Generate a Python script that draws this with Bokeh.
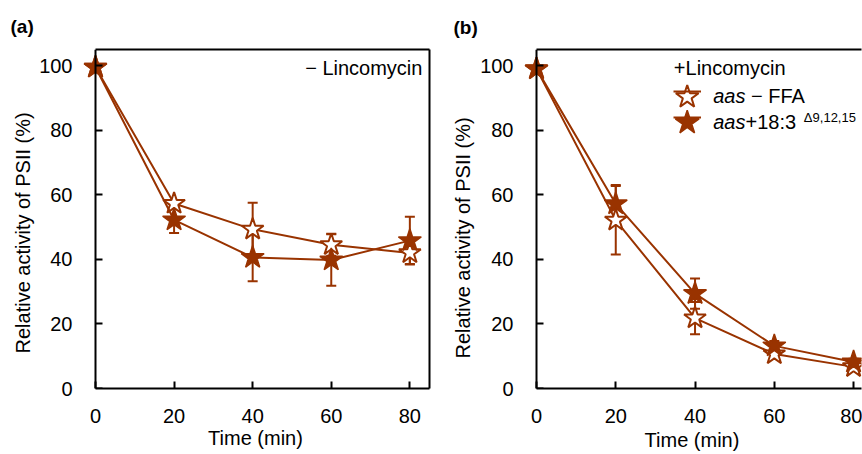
from bokeh.plotting import figure
from bokeh.models import (Whisker, TeeHead, ColumnDataSource, FixedTicker, Label,
                          Range1d, Legend, LegendItem, LinearAxis, Title)
from bokeh.layouts import row
from bokeh.embed import file_html
from bokeh.resources import INLINE

# ---------------- data ----------------
time_min = [0, 20, 40, 60, 80]

# panel (a): - Lincomycin
a_ffa = [99.5, 57.3, 49.3, 44.5, 42.0]
a_ffa_err = [0, 1.0, 8.2, 3.4, 3.4]
a_183 = [99.5, 52.2, 40.6, 39.8, 45.8]
a_183_err = [0, 4.0, 7.4, 8.0, 7.4]

# panel (b): + Lincomycin
b_ffa = [99.0, 52.1, 21.8, 10.7, 6.7]
b_ffa_err = [0, 10.6, 5.0, 1.0, 0.8]
b_183 = [99.0, 57.2, 29.4, 13.2, 8.2]
b_183_err = [0, 5.8, 4.7, 1.5, 1.0]

x_ticks = [0, 20, 40, 60, 80]
y_ticks = [0, 20, 40, 60, 80, 100]

BROWN = "#993300"
FONT = "Liberation Sans"


def border_axis(bounds=None):
    ax = LinearAxis(ticker=FixedTicker(ticks=[]), axis_line_width=2,
                    axis_line_color="black", major_tick_in=0, major_tick_out=0,
                    minor_tick_in=0, minor_tick_out=0, major_label_standoff=0,
                    axis_label_standoff=0, major_label_text_font_size="1px",
                    major_label_text_color=None)
    if bounds is not None:
        ax.bounds = bounds
    return ax


def make_fig(title, width, height, bl, br, bt, bb, xstart, xend, title_offset,
             title_standoff, x_standoff, xl_standoff, yl_offset, yl_standoff):
    p = figure(width=width, height=height, output_backend="svg", toolbar_location=None,
               x_range=Range1d(xstart, xend), y_range=Range1d(0, 105),
               min_border_left=bl, min_border_right=br, min_border_top=bt,
               min_border_bottom=bb, title=title)
    p.title.align = "left"
    p.title.offset = title_offset
    p.title.text_font = FONT
    p.title.text_font_size = "19px"
    p.title.text_font_style = "bold"
    p.title.text_color = "black"
    p.title.standoff = title_standoff
    p.grid.visible = False
    p.outline_line_color = None
    p.background_fill_color = "white"
    p.border_fill_color = "white"
    for ax in (p.xaxis[0], p.yaxis[0]):
        ax.axis_line_width = 2
        ax.axis_line_color = "black"
        ax.major_tick_line_width = 2
        ax.major_tick_line_color = "black"
        ax.minor_tick_line_color = None
        ax.major_tick_in = 7
        ax.major_tick_out = 0
        ax.major_label_text_font = FONT
        ax.major_label_text_font_size = "20px"
        ax.major_label_text_color = "black"
        ax.axis_label_text_font = FONT
        ax.axis_label_text_font_size = "20px"
        ax.axis_label_text_font_style = "normal"
        ax.axis_label_text_color = "black"
    p.xaxis.ticker = FixedTicker(ticks=x_ticks)
    p.xaxis.bounds = (0, xend)
    p.xaxis.major_label_standoff = x_standoff
    p.xaxis.axis_label = "Time (min)"
    p.xaxis.axis_label_standoff = xl_standoff

    # labelled y axis (sits at frame edge; its own line and ticks hidden)
    ya = p.yaxis[0]
    ya.ticker = FixedTicker(ticks=y_ticks)
    ya.axis_line_color = None
    ya.major_tick_line_color = None
    ya.major_label_standoff = 9

    # y axis line and inward ticks drawn exactly at x = 0 (no labels)
    yfix = LinearAxis(ticker=FixedTicker(ticks=y_ticks), fixed_location=0,
                      axis_line_width=2, axis_line_color="black",
                      major_tick_in=7, major_tick_out=0, major_tick_line_width=2,
                      major_tick_line_color="black", minor_tick_line_color=None,
                      major_label_standoff=0, major_label_text_font_size="1px",
                      major_label_text_color=None, axis_label_standoff=0)
    p.add_layout(yfix, "left")
    p.add_layout(border_axis((0, xend)), "above")

    # y-axis title, placed like the original (not centred on the frame)
    p.add_layout(Title(text="Relative activity of PSII (%)", align="left",
                       offset=yl_offset, standoff=yl_standoff,
                       vertical_align="bottom", text_font=FONT,
                       text_font_size="20px", text_font_style="normal",
                       text_color="black"), "left")
    return p


def add_series(p, y, err, filled):
    src = ColumnDataSource(dict(x=time_min, y=y,
                                upper=[v + e for v, e in zip(y, err)],
                                lower=[v - e for v, e in zip(y, err)]))
    w = Whisker(source=src, base="x", upper="upper", lower="lower",
                line_color=BROWN, line_width=2, level="underlay",
                upper_head=TeeHead(size=10, line_color=BROWN, line_width=2),
                lower_head=TeeHead(size=10, line_color=BROWN, line_width=2))
    p.add_layout(w)
    lr = p.line("x", "y", source=src, line_color=BROWN, line_width=2)
    p.scatter("x", "y", source=src, marker="star", size=24 if filled else 23,
              fill_color=BROWN if filled else "white", line_color=BROWN,
              line_width=1.5 if filled else 2)
    return lr


def txt(p, x, y, s, size="20px", style="normal", align="left"):
    p.add_layout(Label(x=x, y=y, text=s, text_font=FONT, text_font_size=size,
                       text_font_style=style, text_align=align,
                       text_baseline="alphabetic", text_color="black"))


# ---------- panel (a) ----------
pa = make_fig("(a)", 440, 454, 81, 11, 48, 66, -3.56, 85, -71, 26, 20, 1, 35, 6)
pa.add_layout(border_axis(), "right")
add_series(pa, a_ffa, a_ffa_err, False)
add_series(pa, a_183, a_183_err, True)
txt(pa, 83.2, 99.15, "\u2212 Lincomycin", align="right")

# ---------- panel (b) ----------
pb = make_fig("(b)", 422, 454, 82, 1, 44, 64, -3.53, 82, -69, 24, 20, 3, 30, 8)
l1 = add_series(pb, b_ffa, b_ffa_err, False)
l2 = add_series(pb, b_183, b_183_err, True)

# legend key: line sample via Legend, star sample on top of it
KEY_X = 38.03
KEY_Y1, KEY_Y2 = 90.29, 82.34


def key(p, renderer, loc, ky, filled):
    p.add_layout(Legend(items=[LegendItem(label=" ", renderers=[renderer])],
                        location=loc, border_line_color=None,
                        background_fill_alpha=0, glyph_width=28, glyph_height=20,
                        padding=0, margin=0, label_width=1, label_height=1,
                        label_standoff=0, label_text_font_size="1px",
                        label_text_color=None))
    p.scatter([KEY_X], [ky], marker="star", size=25 if filled else 24,
              fill_color=BROWN if filled else "white", line_color=BROWN,
              line_width=1.5 if filled else 2)


key(pb, l1, (151, 287), KEY_Y1, False)
key(pb, l2, (151, 261), KEY_Y2, True)

txt(pb, 34.65, 99.4, "+Lincomycin")
txt(pb, 44.59, 90.6, "aas", style="italic")
txt(pb, 54.13, 90.6, "\u2212 FFA")
txt(pb, 44.59, 82.57, "aas", style="italic")
txt(pb, 52.74, 82.57, "+18:3")
txt(pb, 67.46, 83.84, "\u03949,12,15", size="13px")

layout = row(pa, pb)
open("out.html", "w").write(file_html(layout, INLINE))
